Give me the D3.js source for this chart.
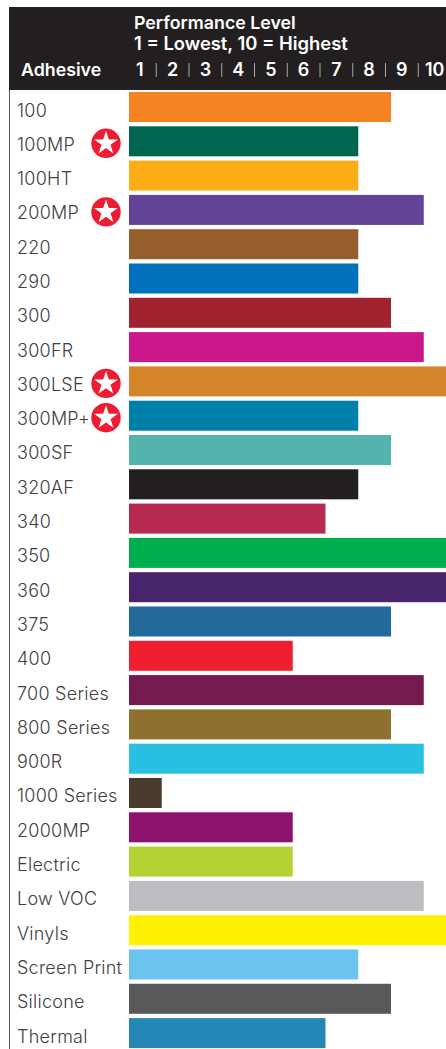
<!DOCTYPE html>
<html>
<head>
<meta charset="utf-8">
<script src="https://cdn.jsdelivr.net/npm/d3@7"></script>
<style>
html, body { margin: 0; padding: 0; background: #fff; overflow: hidden; }
svg { display: block; font-family: Inter, "Open Sans", sans-serif; }
</style>
</head>
<body>
<svg id="chart" width="446" height="1049"></svg>
<script>
const adhesives = ["100","100MP","100HT","200MP","220","290","300","300FR","300LSE","300MP+","300SF","320AF","340","350","360","375","400","700 Series","800 Series","900R","1000 Series","2000MP","Electric","Low VOC","Vinyls","Screen Print","Silicone","Thermal"];
const levels = [8,7,7,9,7,7,8,9,10,7,8,7,6,10,10,8,5,9,8,9,1,5,5,9,10,7,8,6];
const colors = ["#f58220","#006651","#fdae17","#634397","#955f2d","#0071bc","#a0222f","#cc168c","#d5862a","#0080a8","#53b3ad","#231f20","#b72a50","#00ae4d","#47246b","#23699c","#ef1f2f","#751a4f","#8e712e","#28c0e0","#4a3a2c","#8e136e","#b4d333","#bcbdc0","#fff200","#6bc4ef","#58595b","#2587b5"];
const starred = ["100MP","200MP","300LSE","300MP+"];
const ticks = [1,2,3,4,5,6,7,8,9,10];

const svg = d3.select("#chart");
const x = d3.scaleLinear().domain([0, 10]).range([129, 456.5]);
const y = d3.scaleBand().domain(adhesives).range([92, 1048.1]).paddingInner(0.125);

// header
svg.append("rect").attr("x", 9).attr("y", 7).attr("width", 437).attr("height", 83).attr("fill", "#231f20");
svg.append("line").attr("x1", 9.5).attr("x2", 9.5).attr("y1", 90).attr("y2", 1049).attr("stroke", "#58595b").attr("stroke-width", 1);

const head = svg.append("g").attr("fill", "#fff").attr("font-weight", 600).attr("font-size", 17.8);
head.append("text").attr("x", 134).attr("y", 29).text("Performance Level");
head.append("text").attr("x", 134).attr("y", 50).attr("font-size", 18.4).text("1 = Lowest, 10 = Highest");
head.append("text").attr("x", 21).attr("y", 76).text("Adhesive");

// level numbers sit in the middle of each unit, dividers on the unit edges
head.selectAll("text.tick").data(ticks).enter().append("text")
    .attr("class", "tick")
    .attr("x", d => x(d - 0.5) - 5.5)
    .attr("y", 76)
    .attr("text-anchor", "middle")
    .attr("font-size", 18)
    .text(d => d);
svg.selectAll("line.div").data(ticks.slice(0, 9)).enter().append("line")
    .attr("class", "div")
    .attr("x1", d => x(d) - 5.5).attr("x2", d => x(d) - 5.5)
    .attr("y1", 63).attr("y2", 77)
    .attr("stroke", "#a7a9ac").attr("stroke-width", 1);

// bars
svg.append("g").selectAll("rect").data(adhesives).enter().append("rect")
    .attr("x", x(0))
    .attr("y", d => y(d))
    .attr("width", (d, i) => x(levels[i]) - x(0))
    .attr("height", y.bandwidth())
    .attr("fill", (d, i) => colors[i]);

// row labels
svg.append("g").selectAll("text").data(adhesives).enter().append("text")
    .attr("x", 17)
    .attr("y", d => y(d) + 24.5)
    .attr("font-size", 18)
    .attr("font-weight", 300)
    .attr("letter-spacing", 0.25)
    .attr("fill", "#414042")
    .text(d => d);

// star badges
const star = d3.symbol().type(d3.symbolStar).size(175);
const badges = svg.append("g").selectAll("g").data(starred).enter().append("g")
    .attr("transform", d => `translate(106,${y(d) + 17})`);
badges.append("circle").attr("r", 14.7).attr("fill", "#ed1c33");
badges.append("path").attr("d", star).attr("fill", "#fff");
</script>
</body>
</html>
